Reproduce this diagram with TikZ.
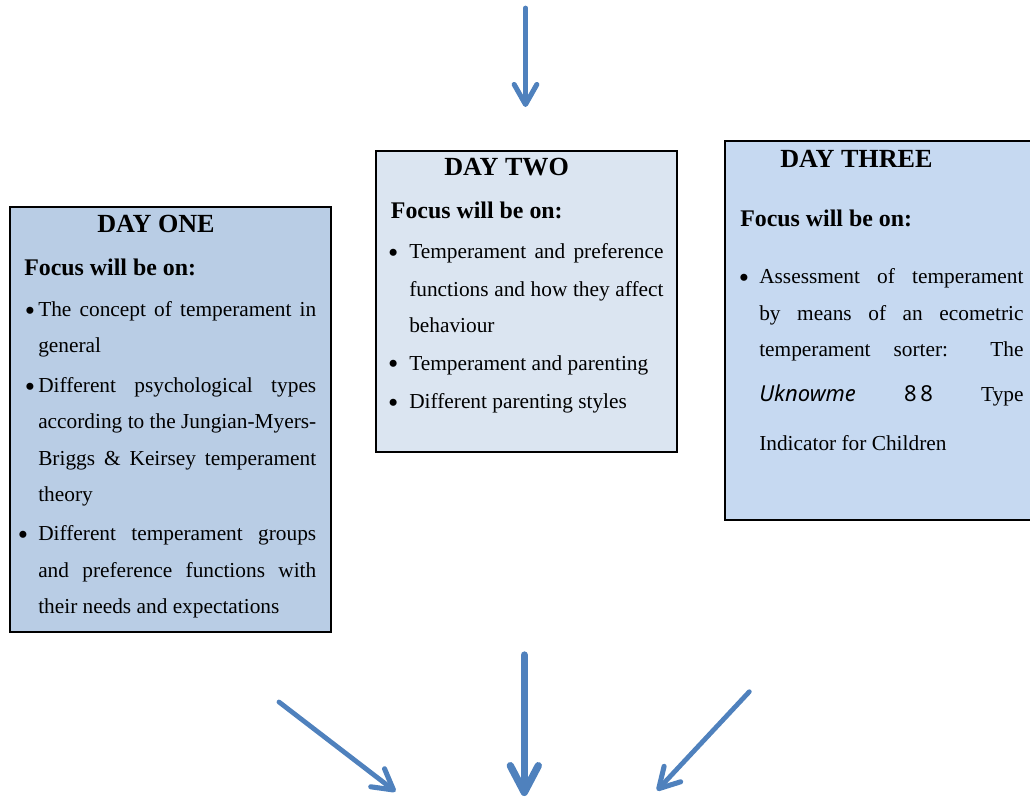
\documentclass[tikz,border=0pt]{standalone}
\usepackage{fontspec}
\setmainfont{Liberation Serif}
\newfontfamily\handfont{Noto Sans}[ItalicFont=*-Italic]
\usetikzlibrary{arrows.meta}
\definecolor{arrowblue}{HTML}{4F81BD}
\definecolor{dayonefill}{HTML}{B9CDE5}
\definecolor{daytwofill}{HTML}{DBE5F1}
\definecolor{daythreefill}{HTML}{C6D9F1}
% a justified line of given width
\newcommand\justline[2]{\makebox[#1][s]{#2}}
\begin{document}
\begin{tikzpicture}[x=0.75pt,y=-0.75pt,
  panel/.style={draw=black,line width=1.5pt,inner sep=0pt,rectangle},
  daytitle/.style={anchor=base west,inner sep=0pt,font=\fontsize{19.6}{22}\selectfont\bfseries},
  focus/.style={anchor=base west,inner sep=0pt,font=\fontsize{17.9}{20}\selectfont\bfseries},
  txt/.style={anchor=base west,inner sep=0pt,font=\fontsize{16}{19}\selectfont},
  dot/.style={anchor=center,inner sep=0pt,yshift=-3pt,font=\fontsize{22}{22}\selectfont},
  flow/.style={draw=arrowblue,line width=3.6pt,line cap=round,
    -{Straight Barb[round,length=15pt,width=17pt,line width=3.8pt]}},
  bigflow/.style={draw=arrowblue,line width=5.5pt,line cap=round,
    -{Straight Barb[round,length=20pt,width=21pt]}}
]
\useasboundingbox (0,0) rectangle (1030,800);
\clip (0,0) rectangle (1030,800);

% panels
\node[panel,fill=dayonefill,minimum width=240.4pt,minimum height=318.4pt] (one) at (170.75,419.25) {};
\node[panel,fill=daytwofill,minimum width=225.4pt,minimum height=225.75pt] (two) at (526.75,301) {};
\node[panel,fill=daythreefill,minimum width=235.9pt,minimum height=284.25pt] (three) at (882.75,330.5) {};

% day one
\node[daytitle] (t1) at (97,232.7) {DAY ONE};
\node[focus] (f1) at (24,275) {Focus will be on:};
\node[dot] (b11) at (30,310) {•};
\node[dot] (b12) at (30,385.6) {•};
\node[dot] (b13) at (23,534) {•};
\node[txt] (a1) at (38,316.7) {\justline{208.5pt}{The concept of temperament in}};
\node[txt] (a2) at (38,352.7) {general};
\node[txt] (a3) at (38,392.3) {\justline{208.5pt}{Different psychological types}};
\node[txt] (a4) at (38,428.3) {\justline{208.5pt}{according to the Jungian-Myers-}};
\node[txt] (a5) at (38,465) {\justline{208.5pt}{Briggs \& Keirsey temperament}};
\node[txt] (a6) at (38,501.7) {theory};
\node[txt] (a7) at (38,540.7) {\justline{208.5pt}{Different temperament groups}};
\node[txt] (a8) at (38,577.3) {\justline{208.5pt}{and preference functions with}};
\node[txt] (a9) at (38,613.3) {their needs and expectations};

% day two
\node[daytitle] (t2) at (444,175) {DAY TWO};
\node[focus] (f2) at (390.7,218.3) {Focus will be on:};
\node[dot] (b21) at (393.3,251.6) {•};
\node[dot] (b22) at (393.3,363.3) {•};
\node[dot] (b23) at (393.3,401.6) {•};
\node[txt] (c1) at (409,258.3) {\justline{190.7pt}{Temperament and preference}};
\node[txt] (c2) at (409,296) {\justline{190.7pt}{functions and how they affect}};
\node[txt] (c3) at (409,332.7) {behaviour};
\node[txt] (c4) at (409,370) {Temperament and parenting};
\node[txt] (c5) at (409,408.3) {Different parenting styles};

% day three
\node[daytitle] (t3) at (780,167.3) {DAY THREE};
\node[focus] (f3) at (740,226.7) {Focus will be on:};
\node[dot] (b31) at (744,276.6) {•};
\node[txt] (e1) at (759,283.3) {\justline{198.2pt}{Assessment of temperament}};
\node[txt] (e2) at (759,320) {\justline{198.2pt}{by means of an ecometric}};
\node[txt] (e3) at (759,356.7) {\justline{198.2pt}{temperament sorter: The}};
\node[txt] (e4) at (759,401.7) {\justline{198.2pt}{{\handfont\itshape\fontsize{16.5}{19}\selectfont Uknowme} {\handfont\fontsize{16.5}{19}\selectfont 8\,8} Type}};
\node[txt] (e5) at (759,450) {Indicator for Children};

% arrows
\coordinate (inTop) at (525.5,8);
\coordinate (inEnd) at (525.5,107);
\coordinate (outMid) at (524.3,655);
\coordinate (outMidEnd) at (524.3,796);
\coordinate (outL) at (279,702);
\coordinate (outLEnd) at (395.5,791.5);
\coordinate (outR) at (749.3,691.7);
\coordinate (outREnd) at (657,790.5);
\draw[flow] (inTop) -- (inEnd);
\draw[bigflow] (outMid) -- (outMidEnd);
\draw[flow] (outL) -- (outLEnd);
\draw[flow] (outR) -- (outREnd);
\end{tikzpicture}
\end{document}
